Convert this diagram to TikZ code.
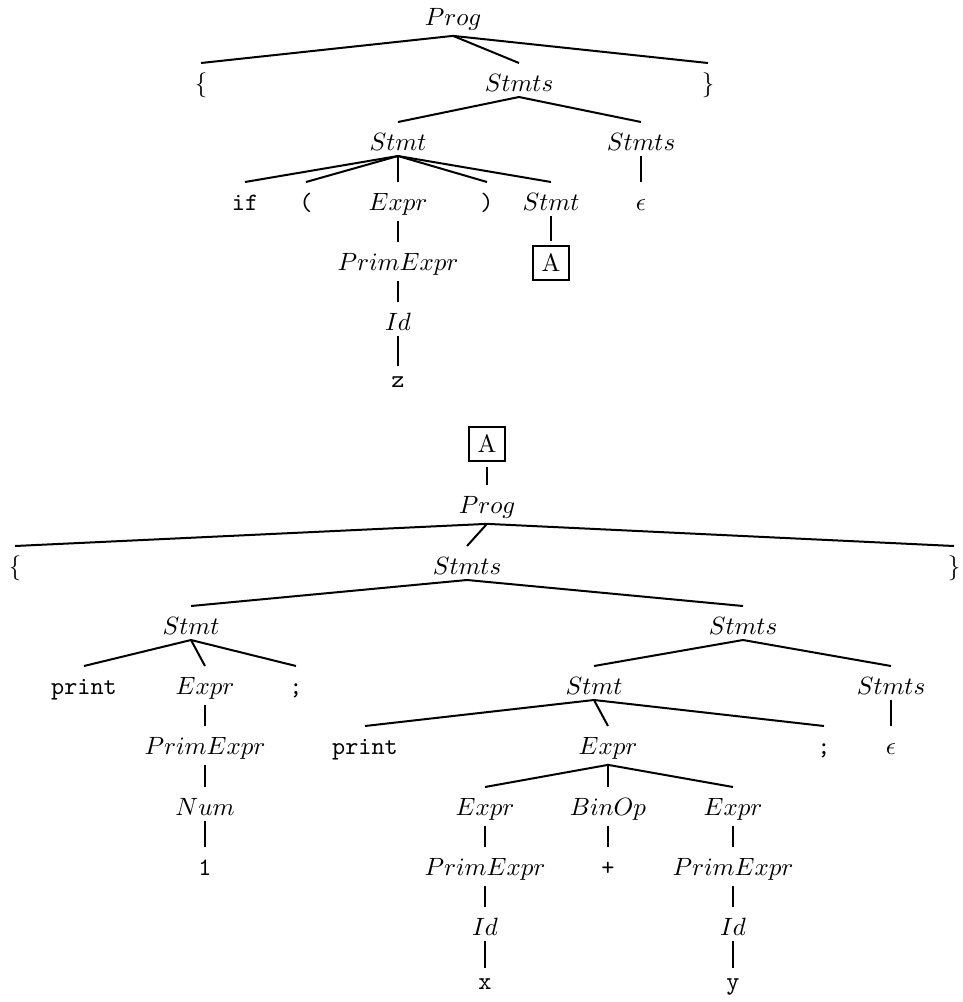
\documentclass[tikz,border=0pt]{standalone}
\tikzset{every picture/.style={line width=0.8pt}}
\tikzset{
  tn/.style={anchor=base, inner xsep=0pt, inner ysep=2pt, text height=8.8pt},
  tx/.style={tn, text height=6.1pt},
  boxa/.style={draw, inner sep=3.4pt},
}
\begin{document}
\begin{tikzpicture}[x=0.4pt,y=0.4pt,yscale=-1,xscale=1]
\useasboundingbox (0,0) rectangle (962,1002);

%Upper tree
% Text Node
\node [tn] (prog1) at (453,25) {$Prog$};
% Text Node
\node [tn] (lbr1) at (201,91) {$\{$};
\node [tn] (stmts1) at (519,91) {$Stmts$};
\node [tn] (rbr1) at (708,91) {$\}$};
% Text Node
\node [tn] (stmt1) at (398,150) {$Stmt$};
\node [tn] (stmts2) at (641,150) {$Stmts$};
% Text Node
\node [tn] (if1) at (245,210) {\texttt{if}};
\node [tn] (lpar) at (306,210) {\texttt{(}};
\node [tn] (expr1) at (398,210) {$Expr$};
\node [tn] (rpar) at (487,210) {\texttt{)}};
\node [tn] (stmt2) at (551,210) {$Stmt$};
\node [tn] (eps1) at (641,210) {$\epsilon$};
% Text Node
\node [tn] (prim1) at (398,270) {$PrimExpr$};
\node [boxa] (boxa1) at (551,263) {A};
% Text Node
\node [tn] (id1) at (398,330) {$Id$};
\node [tx] (z1) at (398,387) {\texttt{z}};

%Straight Lines
\draw (prog1.south) -- (lbr1.north);
\draw (prog1.south) -- (stmts1.north);
\draw (prog1.south) -- (rbr1.north);
\draw (stmts1.south) -- (stmt1.north);
\draw (stmts1.south) -- (stmts2.north);
\draw (stmt1.south) -- (if1.north);
\draw (stmt1.south) -- (lpar.north);
\draw (stmt1.south) -- (expr1.north);
\draw (stmt1.south) -- (rpar.north);
\draw (stmt1.south) -- (stmt2.north);
\draw (stmts2.south) -- (eps1.north);
\draw (expr1.south) -- (prim1.north);
\draw [shorten >=1.5pt] (stmt2.south) -- (boxa1.north);
\draw (prim1.south) -- (id1.north);
\draw (id1.south) -- (z1.north);

%Lower tree
% Text Node
\node [boxa] (boxa2) at (487,444) {A};
\node [tn] (prog2) at (487,513) {$Prog$};
% Text Node
\node [tn] (lbr2) at (15,574) {$\{$};
\node [tn] (stmts3) at (467,574) {$Stmts$};
\node [tn] (rbr2) at (954,574) {$\}$};
% Text Node
\node [tn] (stmt3) at (191,634) {$Stmt$};
\node [tn] (stmts4) at (743,634) {$Stmts$};
% Text Node
\node [tn] (print1) at (84,694) {\texttt{print}};
\node [tn] (expr2) at (205,694) {$Expr$};
\node [tn] (semi1) at (296,694) {\texttt{;}};
\node [tn] (stmt4) at (594,694) {$Stmt$};
\node [tn] (stmts5) at (891,694) {$Stmts$};
% Text Node
\node [tn] (prim2) at (205,754) {$PrimExpr$};
\node [tn] (print2) at (365,754) {\texttt{print}};
\node [tn] (expr3) at (608,754) {$Expr$};
\node [tn] (semi2) at (824,754) {\texttt{;}};
\node [tn] (eps2) at (891,754) {$\epsilon$};
% Text Node
\node [tn] (num1) at (205,815) {$Num$};
\node [tn] (expr4) at (485,815) {$Expr$};
\node [tn] (binop) at (608,815) {$BinOp$};
\node [tn] (expr5) at (733,815) {$Expr$};
% Text Node
\node [tn] (one) at (205,875) {\texttt{1}};
\node [tn] (prim3) at (485,875) {$PrimExpr$};
\node [tn] (plus) at (608,875) {\texttt{+}};
\node [tn] (prim4) at (733,875) {$PrimExpr$};
% Text Node
\node [tn] (id2) at (485,935) {$Id$};
\node [tn] (id3) at (733,935) {$Id$};
\node [tx] (x1) at (485,989) {\texttt{x}};
\node [tx] (y1) at (733,989) {\texttt{y}};

%Straight Lines
\draw [shorten <=2pt] (boxa2.south) -- (prog2.north);
\draw (prog2.south) -- (lbr2.north);
\draw (prog2.south) -- (stmts3.north);
\draw (prog2.south) -- (rbr2.north);
\draw (stmts3.south) -- (stmt3.north);
\draw (stmts3.south) -- (stmts4.north);
\draw (stmt3.south) -- (print1.north);
\draw (stmt3.south) -- (expr2.north);
\draw (stmt3.south) -- (semi1.north);
\draw (stmts4.south) -- (stmt4.north);
\draw (stmts4.south) -- (stmts5.north);
\draw (expr2.south) -- (prim2.north);
\draw (stmt4.south) -- (print2.north);
\draw (stmt4.south) -- (expr3.north);
\draw (stmt4.south) -- (semi2.north);
\draw (stmts5.south) -- (eps2.north);
\draw (prim2.south) -- (num1.north);
\draw (expr3.south) -- (expr4.north);
\draw (expr3.south) -- (binop.north);
\draw (expr3.south) -- (expr5.north);
\draw (num1.south) -- (one.north);
\draw (expr4.south) -- (prim3.north);
\draw (binop.south) -- (plus.north);
\draw (expr5.south) -- (prim4.north);
\draw (prim3.south) -- (id2.north);
\draw (prim4.south) -- (id3.north);
\draw (id2.south) -- (x1.north);
\draw (id3.south) -- (y1.north);

\end{tikzpicture}
\end{document}
